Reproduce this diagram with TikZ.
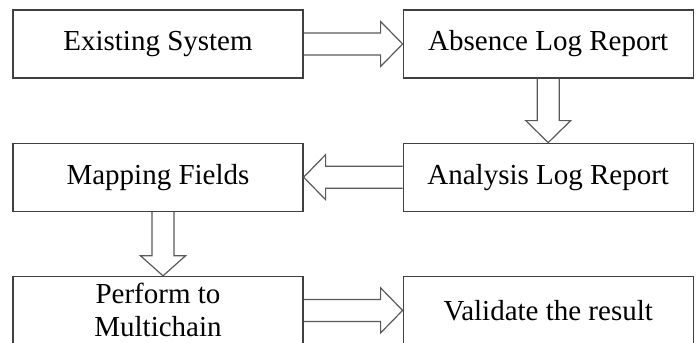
\documentclass[tikz,border=0pt]{standalone}
\usepackage{fontspec}
\setmainfont{Liberation Serif}
\usepackage{tikz}
\usetikzlibrary{positioning,calc}

\begin{document}
\begin{tikzpicture}[
        box/.style={draw=black!75, line width=0.6pt, rectangle, minimum height=34pt, minimum width=145pt,
            align=center, font=\fontsize{14.5}{17.5}\selectfont},
        blockarrow/.style={draw=black!65, line width=0.6pt}
    ]
        \useasboundingbox (0,0) rectangle (349.5pt,-171pt);

        \node[box] (exist) at (79pt,-22pt) {Existing System};
        \node[box, right=49.5pt of exist] (absence) {Absence Log Report};
        \node[box, below=32pt of absence] (analysis) {Analysis Log Report};
        \node[box, below=32pt of exist] (mapping) {Mapping Fields};
        \node[box, below=32pt of mapping] (perform) {Perform to\\[-1pt]Multichain};
        \node[box, below=32pt of analysis] (validate) {Validate the result};

        % right
        \draw[blockarrow] let \p1=(exist.east), \p2=(absence.west) in
            (\x1,\y1+5.5pt) -- (\x2-11pt,\y1+5.5pt) -- (\x2-11pt,\y1+11.25pt) -- (\x2,\y1)
            -- (\x2-11pt,\y1-11.25pt) -- (\x2-11pt,\y1-5.5pt) -- (\x1,\y1-5.5pt);
        % down
        \draw[blockarrow] let \p1=(absence.south), \p2=(analysis.north) in
            (\x1-5.5pt,\y1) -- (\x1-5.5pt,\y2+11pt) -- (\x1-11.25pt,\y2+11pt) -- (\x1,\y2)
            -- (\x1+11.25pt,\y2+11pt) -- (\x1+5.5pt,\y2+11pt) -- (\x1+5.5pt,\y1);
        % left
        \draw[blockarrow] let \p1=(analysis.west), \p2=(mapping.east) in
            (\x1,\y1+5.5pt) -- (\x2+11pt,\y1+5.5pt) -- (\x2+11pt,\y1+11.25pt) -- (\x2,\y1)
            -- (\x2+11pt,\y1-11.25pt) -- (\x2+11pt,\y1-5.5pt) -- (\x1,\y1-5.5pt);
        % down
        \draw[blockarrow] let \p1=($(mapping.south)+(2.5pt,0)$), \p2=(perform.north) in
            (\x1-5.5pt,\y1) -- (\x1-5.5pt,\y2+10pt) -- (\x1-11.25pt,\y2+10pt) -- (\x1,\y2)
            -- (\x1+11.25pt,\y2+10pt) -- (\x1+5.5pt,\y2+10pt) -- (\x1+5.5pt,\y1);
        % right
        \draw[blockarrow] let \p1=(perform.east), \p2=(validate.west) in
            (\x1,\y1+5.5pt) -- (\x2-11pt,\y1+5.5pt) -- (\x2-11pt,\y1+11.25pt) -- (\x2,\y1)
            -- (\x2-11pt,\y1-11.25pt) -- (\x2-11pt,\y1-5.5pt) -- (\x1,\y1-5.5pt);
    \end{tikzpicture}
\end{document}
